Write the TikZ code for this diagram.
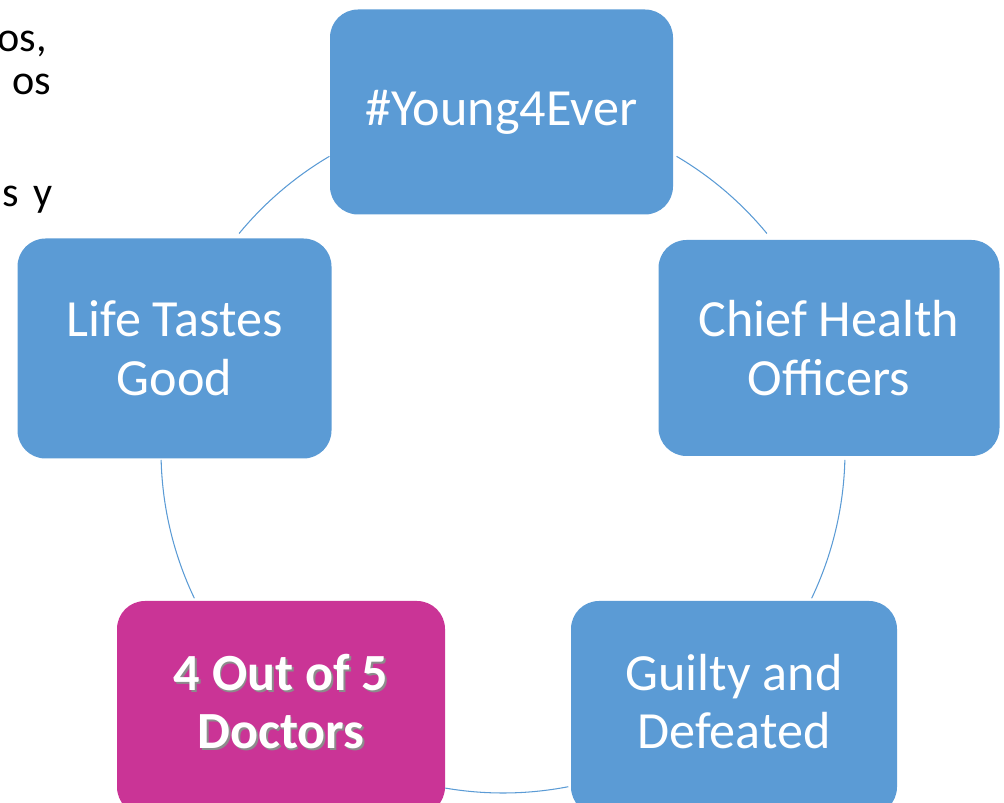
\documentclass[tikz,border=0pt]{standalone}
\usepackage{fontspec}
\setmainfont{Carlito}
\usetikzlibrary{positioning}
\newcommand{\shadowed}[1]{\makebox[0pt][l]{\hspace{1pt}\raisebox{-1pt}{\color{black!45}#1}}#1}

\begin{document}
\begin{tikzpicture}[
            cyclebox/.style={rectangle,rounded corners=0.56cm,fill=cycleblue,text=white,align=center,inner sep=0pt,font=\fontsize{29.7}{33.4}\selectfont},
            link/.style={cycleblue,line width=0.6pt},
            note/.style={inner sep=0pt,text=black,font=\fontsize{24}{28.8}\selectfont}
        ]
            \definecolor{cycleblue}{RGB}{91,155,213}
            \definecolor{doctorpink}{RGB}{202,52,150}
            \useasboundingbox (0,0) rectangle (20.08,-16.06);
            \coordinate (hub) at (10.06,-9.02);
            \foreach \a/\b in {59.5/39.5,-1.5/-25.5,-79/-101,205.5/181.5,140.5/120.5} {
                \draw [link] (hub) ++(\a:6.84) arc[start angle=\a,end angle=\b,radius=6.84];
            }
            \node [cyclebox,minimum width=6.86cm,minimum height=4.10cm] (young) at (10.03,-2.24) {\#Young4Ever};
            \node [cyclebox,minimum width=6.82cm,minimum height=4.32cm] (chief) at (16.58,-6.96) {Chief Health\\Officers};
            \node [cyclebox,minimum width=6.52cm,minimum height=4.28cm,text depth=0.26cm] (guilty) at (14.68,-14.16) {Guilty and\\Defeated};
            \node [cyclebox,fill=doctorpink,minimum width=6.56cm,minimum height=4.28cm,text depth=0.26cm,font=\fontsize{29.7}{33.4}\selectfont\bfseries] (doctors) at (5.62,-14.16) {\shadowed{4 Out of 5}\\\shadowed{Doctors}};
            \node [cyclebox,minimum width=6.28cm,minimum height=4.40cm] (life) at (3.49,-6.97) {Life Tastes\\Good};
            % text of the slide, cut at the left edge
            \node [note,anchor=base west] (lineA) at (-0.06,-1.04) {os,};
            \node [note,anchor=base east] (lineB) at (1.03,-1.90) {os};
            \node [note,anchor=base east] (lineC) at (1.05,-4.14) {s\hskip0.34em y};
        \end{tikzpicture}
\end{document}
